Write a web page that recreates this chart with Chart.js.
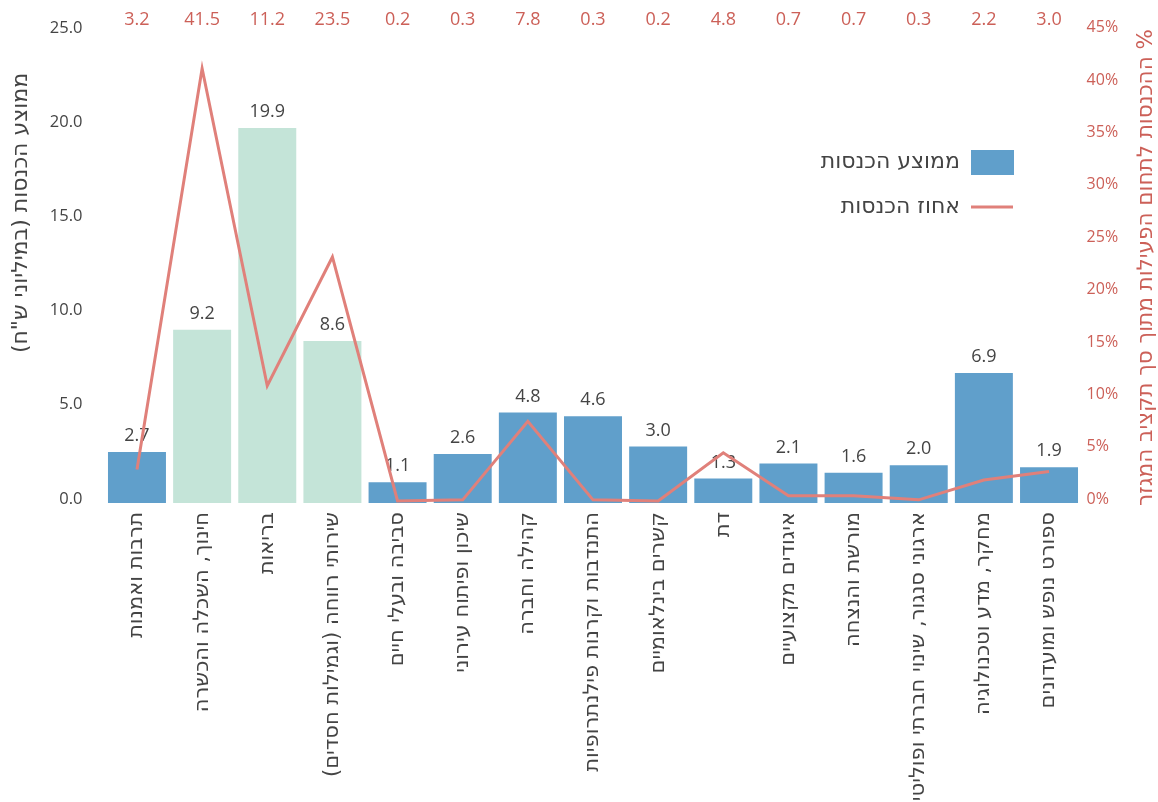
<!DOCTYPE html>
<html lang="he">
<head>
<meta charset="utf-8">
<script src="https://cdn.jsdelivr.net/npm/chart.js@4.4.1/dist/chart.umd.min.js"></script>
<style>
  html, body { margin: 0; padding: 0; background: #fff; }
  #wrap { width: 1158px; height: 802px; }
</style>
</head>
<body>
<div id="wrap"><canvas id="incomeChart" width="1158" height="802"></canvas></div>
<script>
const FONT = "'Open Sans', 'DejaVu Sans', sans-serif";
const HEB_FONT = "'DejaVu Sans', 'Open Sans', sans-serif";
const DARK = '#444444';
const RED_TEXT = '#cc6058';

// Data
const categories = [
  'תרבות ואמנות',
  'חינוך, השכלה והכשרה',
  'בריאות',
  'שירותי רווחה (וגמילות חסדים)',
  'סביבה ובעלי חיים',
  'שיכון ופיתוח עירוני',
  'קהילה וחברה',
  'התנדבות וקרנות פילנתרופיות',
  'קשרים בינלאומיים',
  'דת',
  'איגודים מקצועיים',
  'מורשת והנצחה',
  'ארגוני סנגור, שינוי חברתי ופוליטי',
  'מחקר, מדע וטכנולוגיה',
  'ספורט נופש ומועדונים'
];
// average income (millions NIS)
const avgIncome = [2.7, 9.2, 19.9, 8.6, 1.1, 2.6, 4.8, 4.6, 3.0, 1.3, 2.1, 1.6, 2.0, 6.9, 1.9];
// share of sector income (%)
const incomeShare = [3.2, 41.5, 11.2, 23.5, 0.2, 0.3, 7.8, 0.3, 0.2, 4.8, 0.7, 0.7, 0.3, 2.2, 3.0];
// big fields drawn in green
const bigFields = ['חינוך, השכלה והכשרה', 'בריאות', 'שירותי רווחה (וגמילות חסדים)'];

const leftTicks = [0, 5, 10, 15, 20, 25];
const rightTicks = [0, 5, 10, 15, 20, 25, 30, 35, 40, 45];

const barLabel = 'ממוצע הכנסות';
const lineLabel = 'אחוז הכנסות';
const leftTitle = 'ממוצע הכנסות (במיליוני ש"ח)';
const rightTitle = '% ההכנסות לתחום הפעילות מתוך סך תקציב המגזר';

const BLUE = '#609fcb';
const GREEN = '#c4e4d8';
const LINE = '#e0807a';

const barColors = categories.map(c => bigFields.includes(c) ? GREEN : BLUE);

// labels, titles, legend
const extras = {
  id: 'extras',
  afterDatasetDraw(chart, args) {
    if (args.index !== 0) return;
    const ctx = chart.ctx;
    ctx.save();
    ctx.font = '18px ' + FONT;
    ctx.fillStyle = DARK;
    ctx.textAlign = 'center';
    ctx.textBaseline = 'middle';
    args.meta.data.forEach((bar, i) => {
      ctx.fillText(avgIncome[i].toFixed(1), bar.x, bar.y - 16);
    });
    ctx.restore();
  },
  afterDraw(chart) {
    const ctx = chart.ctx;
    const x = chart.scales.x;
    const area = chart.chartArea;

    // top row of percentages
    ctx.save();
    ctx.font = '18px ' + FONT;
    ctx.fillStyle = RED_TEXT;
    ctx.textAlign = 'center';
    ctx.textBaseline = 'middle';
    incomeShare.forEach((v, i) => {
      ctx.fillText(v.toFixed(1), x.getPixelForValue(i), 20);
    });
    ctx.restore();

    // legend
    ctx.save();
    ctx.fillStyle = BLUE;
    ctx.fillRect(971, 150, 43, 25);
    ctx.strokeStyle = LINE;
    ctx.lineWidth = 3;
    ctx.beginPath();
    ctx.moveTo(971, 207);
    ctx.lineTo(1013, 207);
    ctx.stroke();
    ctx.font = '22px ' + HEB_FONT;
    ctx.fillStyle = DARK;
    ctx.textAlign = 'right';
    ctx.textBaseline = 'middle';
    ctx.fillText(barLabel, 960, 162);
    ctx.fillText(lineLabel, 960, 207);
    ctx.restore();

    // axis titles
    ctx.save();
    ctx.font = '22px ' + HEB_FONT;
    ctx.fillStyle = DARK;
    ctx.textAlign = 'center';
    ctx.textBaseline = 'middle';
    ctx.translate(21, 213);
    ctx.rotate(-Math.PI / 2);
    ctx.fillText(leftTitle, 0, 0);
    ctx.restore();

    ctx.save();
    ctx.font = '21.5px ' + HEB_FONT;
    ctx.fillStyle = RED_TEXT;
    ctx.direction = 'rtl';
    ctx.textAlign = 'center';
    ctx.textBaseline = 'middle';
    ctx.translate(1146, (area.top + area.bottom) / 2);
    ctx.rotate(-Math.PI / 2);
    ctx.fillText(rightTitle, 0, 0);
    ctx.restore();
  }
};

const ctx = document.getElementById('incomeChart').getContext('2d');
const incomeChart = new Chart(ctx, {
  data: {
    labels: categories,
    datasets: [
      {
        type: 'bar',
        label: barLabel,
        data: avgIncome,
        backgroundColor: barColors,
        borderWidth: 0,
        barPercentage: 0.89,
        categoryPercentage: 1.0,
        yAxisID: 'y',
        order: 1
      },
      {
        type: 'line',
        label: lineLabel,
        data: incomeShare,
        borderColor: LINE,
        borderWidth: 3,
        pointRadius: 0,
        tension: 0,
        fill: false,
        yAxisID: 'y1',
        order: 0
      }
    ]
  },
  options: {
    responsive: false,
    animation: false,
    layout: { padding: { top: 28, left: 0, right: 0, bottom: 0 } },
    plugins: {
      legend: { display: false },
      tooltip: { enabled: false }
    },
    scales: {
      x: {
        grid: { display: false, drawTicks: false },
        border: { display: false },
        ticks: {
          autoSkip: false,
          maxRotation: 90,
          minRotation: 90,
          padding: 9,
          color: DARK,
          font: { family: HEB_FONT, size: 21 }
        },
        afterFit(scale) { scale.height = 299; }
      },
      y: {
        position: 'left',
        min: 0,
        max: 25,
        grid: { display: false, drawTicks: false },
        border: { display: false },
        afterBuildTicks(scale) { scale.ticks = leftTicks.map(v => ({ value: v })); },
        ticks: {
          padding: 22,
          labelOffset: -4,
          color: DARK,
          font: { family: FONT, size: 16.5 },
          callback: v => Number(v).toFixed(1)
        },
        afterFit(scale) { scale.width = 104.4; }
      },
      y1: {
        position: 'right',
        min: 0,
        max: 45,
        grid: { display: false, drawTicks: false },
        border: { display: false },
        afterBuildTicks(scale) { scale.ticks = rightTicks.map(v => ({ value: v })); },
        ticks: {
          padding: 5,
          labelOffset: -4,
          color: RED_TEXT,
          font: { family: FONT, size: 16 },
          callback: v => v + '%'
        },
        afterFit(scale) { scale.width = 76.4; }
      }
    }
  },
  plugins: [extras]
});
</script>
</body>
</html>
